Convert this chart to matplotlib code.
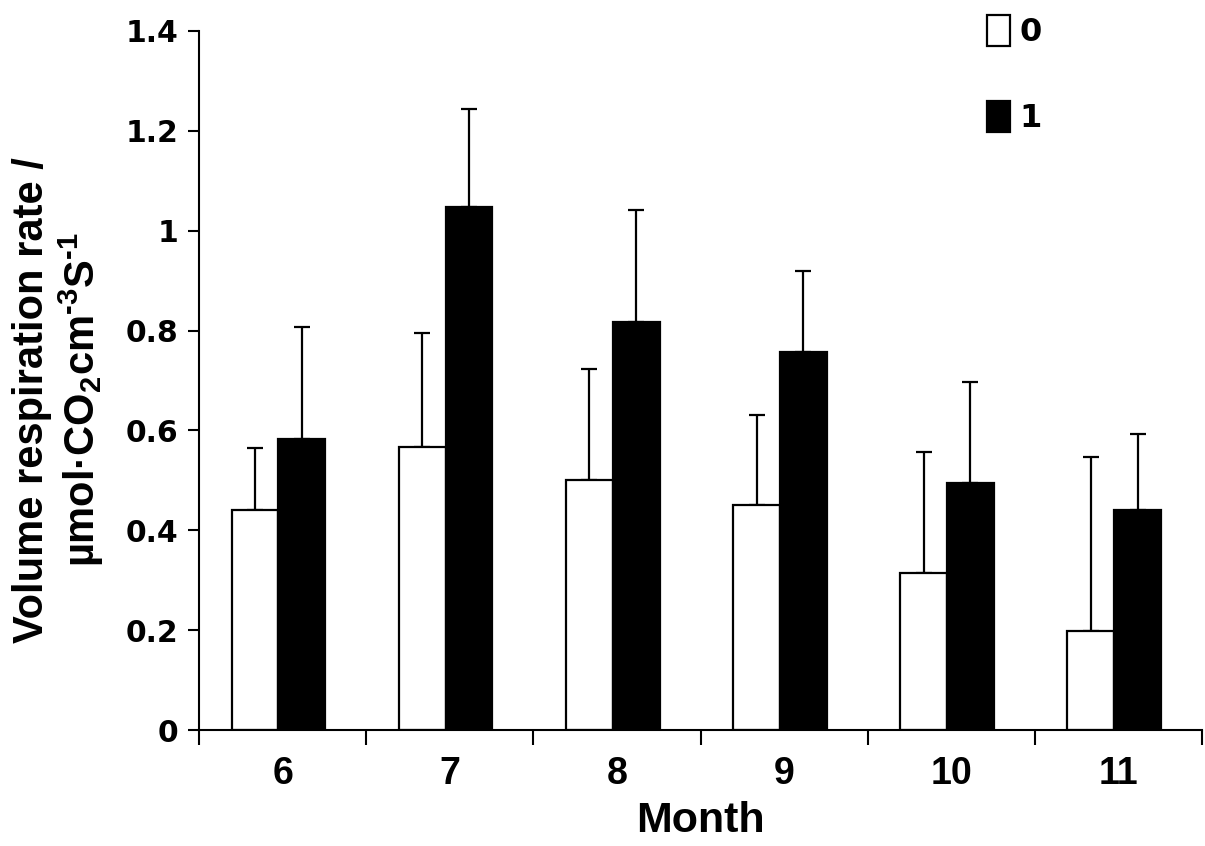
import matplotlib
matplotlib.use("Agg")
import matplotlib.pyplot as plt
from matplotlib import font_manager
import numpy as np

months = ["6", "7", "8", "9", "10", "11"]
series_names = ["0", "1"]
mean_0 = [0.441, 0.567, 0.500, 0.450, 0.314, 0.198]
top_0 = [0.565, 0.795, 0.723, 0.631, 0.557, 0.547]
mean_1 = [0.582, 1.047, 0.817, 0.757, 0.495, 0.441]
top_1 = [0.807, 1.244, 1.041, 0.919, 0.697, 0.593]
err_0 = [t - m for t, m in zip(top_0, mean_0)]
err_1 = [t - m for t, m in zip(top_1, mean_1)]
yticks = [0, 0.2, 0.4, 0.6, 0.8, 1, 1.2, 1.4]
ytick_labels = ["0", "0.2", "0.4", "0.6", "0.8", "1", "1.2", "1.4"]

names = {f.name for f in font_manager.fontManager.ttflist}
narrow = "Liberation Sans Narrow" if "Liberation Sans Narrow" in names else "Liberation Sans"
wide = "DejaVu Sans"

plt.rcParams["mathtext.fontset"] = "custom"
plt.rcParams["mathtext.rm"] = narrow + ":bold"
plt.rcParams["mathtext.it"] = narrow + ":bold"
plt.rcParams["mathtext.bf"] = narrow + ":bold"
plt.rcParams["mathtext.default"] = "rm"

fig = plt.figure(figsize=(12.05, 8.46), dpi=100)
ax = fig.add_axes([199 / 1205, 1 - 730 / 846, (1202 - 199) / 1205, (730 - 31) / 846])

x = np.arange(len(months)) + 0.5
w = 0.28
off = 0.025
ekw = dict(ecolor="black", elinewidth=1.6, capsize=6, capthick=1.6)
b0 = ax.bar(x - w / 2 - off, mean_0, w, color="white", edgecolor="black", linewidth=1.6,
            label=series_names[0], zorder=2)
ax.errorbar(x - w / 2 - off, mean_0, yerr=[np.zeros(len(err_0)), err_0], fmt="none", zorder=1, **ekw)
b1 = ax.bar(x + w / 2 - off, mean_1, w, color="black", edgecolor="black", linewidth=1.6,
            label=series_names[1], zorder=2)
ax.errorbar(x + w / 2 - off, mean_1, yerr=[np.zeros(len(err_1)), err_1], fmt="none", zorder=1, **ekw)

ax.set_xlim(0, len(months))
ax.set_ylim(0, 1.4)
ax.spines["top"].set_visible(False)
ax.spines["right"].set_visible(False)
for s in ("left", "bottom"):
    ax.spines[s].set_linewidth(1.5)

ax.set_xticks(np.arange(len(months) + 1))
ax.set_xticklabels([])
ax.set_xticks(x, minor=True)
ax.set_xticklabels(months, minor=True, fontfamily=narrow, fontweight="bold", fontsize=27)
ax.tick_params(axis="x", which="major", direction="out", length=11, width=1.5)
ax.tick_params(axis="x", which="minor", length=0, pad=19)

ax.set_yticks(yticks)
ax.set_yticklabels(ytick_labels, fontfamily=wide, fontweight="bold", fontsize=21.5)
ax.tick_params(axis="y", direction="out", length=8, width=1.5, pad=7)

ax.set_xlabel("Month", fontfamily=narrow, fontweight="bold", fontsize=31, labelpad=6)
ax.set_ylabel("Volume respiration rate /\nµmol·CO$_2$cm$^{\\text{-}3}$S$^{\\text{-}1}$",
              fontfamily=narrow, fontweight="bold", fontsize=30, linespacing=1.12, labelpad=14)
ax.yaxis.label.set_y((730 - 400) / 699)

leg = ax.legend(handles=[b0, b1], loc="upper left", bbox_to_anchor=(971 / 1205, 1 + 1 / 846),
                bbox_transform=fig.transFigure, frameon=False, borderpad=0,
                handlelength=0.72, handleheight=1.1, handletextpad=0.3, labelspacing=1.65,
                prop=dict(family=wide, weight="bold", size=23))

fig.savefig("out.png", dpi=100)
